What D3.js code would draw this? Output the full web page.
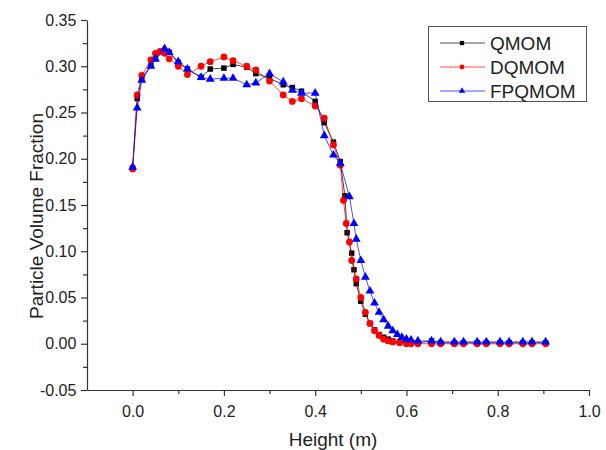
<!DOCTYPE html>
<html>
<head>
<meta charset="utf-8">
<script src="https://cdn.jsdelivr.net/npm/d3@7"></script>
<style>
  body { margin: 0; background: #fff; }
  text { font-family: "Liberation Sans", Arial, sans-serif; fill: #222; }
</style>
</head>
<body>
<script>
// data
let names = ["QMOM", "DQMOM", "FPQMOM"];
let colors = ["#000000", "#ff0000", "#0000ff"];
let tailX = [0.625, 0.655, 0.675, 0.705, 0.725, 0.755, 0.775, 0.805, 0.825, 0.855, 0.875, 0.905];

let xQ = [0, 0.01, 0.02, 0.04, 0.05, 0.07, 0.08, 0.10, 0.12, 0.15, 0.17, 0.20, 0.22, 0.25, 0.27, 0.30, 0.33, 0.35, 0.37, 0.40, 0.42, 0.44, 0.455, 0.465, 0.47, 0.48, 0.485, 0.49, 0.50, 0.51, 0.52, 0.53, 0.54, 0.55, 0.56, 0.57, 0.585, 0.60].concat(tailX);
let yQ = [0.190, 0.265, 0.287, 0.301, 0.308, 0.317, 0.315, 0.304, 0.297, 0.288, 0.297, 0.298, 0.302, 0.299, 0.292, 0.287, 0.280, 0.277, 0.273, 0.262, 0.239, 0.218, 0.197, 0.160, 0.120, 0.098, 0.080, 0.065, 0.046, 0.032, 0.022, 0.015, 0.010, 0.007, 0.005, 0.003, 0.002, 0.001,
          0.001, 0.003, 0.001, 0.001, 0.001, 0.001, 0.001, 0.001, 0.001, 0.001, 0.001, 0.001];

let xD = [0, 0.01, 0.02, 0.04, 0.05, 0.06, 0.07, 0.08, 0.10, 0.12, 0.15, 0.17, 0.20, 0.22, 0.25, 0.27, 0.30, 0.33, 0.35, 0.37, 0.40, 0.42, 0.44, 0.455, 0.462, 0.468, 0.475, 0.48, 0.49, 0.50, 0.51, 0.52, 0.53, 0.54, 0.55, 0.56, 0.57, 0.585, 0.60, 0.61].concat(tailX);
let yD = [0.189, 0.269, 0.290, 0.307, 0.314, 0.316, 0.314, 0.308, 0.300, 0.291, 0.300, 0.305, 0.310, 0.306, 0.300, 0.296, 0.284, 0.269, 0.262, 0.265, 0.257, 0.244, 0.215, 0.193, 0.155, 0.130, 0.110, 0.090, 0.070, 0.050, 0.034, 0.022, 0.014, 0.009, 0.005, 0.003, 0.002, 0.001, 0.000, 0.000,
          0.000, 0.000, 0.000, 0.000, 0.000, 0.000, 0.000, 0.000, 0.000, 0.000, 0.000, 0.000];

let xF = [0, 0.01, 0.02, 0.04, 0.05, 0.07, 0.08, 0.10, 0.12, 0.15, 0.17, 0.20, 0.22, 0.25, 0.27, 0.30, 0.33, 0.35, 0.37, 0.40, 0.42, 0.44, 0.455, 0.475, 0.485, 0.49, 0.50, 0.51, 0.52, 0.53, 0.54, 0.55, 0.56, 0.57, 0.58, 0.59, 0.60, 0.61].concat(tailX);
let yF = [0.191, 0.255, 0.285, 0.300, 0.308, 0.319, 0.315, 0.305, 0.297, 0.288, 0.286, 0.287, 0.287, 0.280, 0.282, 0.292, 0.283, 0.274, 0.271, 0.271, 0.225, 0.204, 0.195, 0.159, 0.130, 0.113, 0.090, 0.072, 0.057, 0.044, 0.034, 0.026, 0.019, 0.014, 0.010, 0.007, 0.005, 0.004,
          0.003, 0.003, 0.002, 0.002, 0.002, 0.002, 0.002, 0.002, 0.002, 0.002, 0.002, 0.002];

let xTicks = [0, 0.2, 0.4, 0.6, 0.8, 1.0];
let yTicks = [-0.05, 0, 0.05, 0.10, 0.15, 0.20, 0.25, 0.30, 0.35];

let svgWidth = 606;
let svgHeight = 450;

let svg = d3.select("body")
    .append("svg")
    .attr("width", svgWidth)
    .attr("height", svgHeight);

// plot area
let margin = {left: 87, right: 589, top: 20, bottom: 390};

let xScale = d3.scaleLinear().domain([-0.1, 1.0]).range([margin.left, margin.right]);
let yScale = d3.scaleLinear().domain([-0.05, 0.35]).range([margin.bottom, margin.top]);

let axisColor = "#333";
let yFmt = d => d3.format(".2f")(d).replace("−", "-");

// x axis
let xAxis = svg.append("g")
    .attr("transform", `translate(0, ${margin.bottom})`)
    .call(d3.axisBottom(xScale).tickValues(xTicks).tickFormat(d3.format(".1f")).tickSize(6).tickSizeOuter(0));
svg.append("g")
    .attr("transform", `translate(0, ${margin.bottom})`)
    .call(d3.axisBottom(xScale).tickValues([0.1, 0.3, 0.5, 0.7, 0.9]).tickFormat("").tickSize(4).tickSizeOuter(0))
    .select(".domain").remove();

// y axis
let yAxis = svg.append("g")
    .attr("transform", `translate(${margin.left}, 0)`)
    .call(d3.axisLeft(yScale).tickValues(yTicks).tickFormat(yFmt).tickSize(6).tickSizeOuter(0));
svg.append("g")
    .attr("transform", `translate(${margin.left}, 0)`)
    .call(d3.axisLeft(yScale).tickValues(d3.range(-0.025, 0.35, 0.05)).tickFormat("").tickSize(4).tickSizeOuter(0))
    .select(".domain").remove();

svg.selectAll(".domain, .tick line").attr("stroke", axisColor).attr("stroke-width", 1.2);
svg.selectAll(".tick text")
    .style("font-size", "16px")
    .style("font-family", "'Liberation Sans', Arial, sans-serif")
    .attr("fill", "#222");
xAxis.selectAll(".tick text").attr("dy", "1.1em");
yAxis.selectAll(".tick text").attr("dx", "-0.1em");

// axis titles
svg.append("text")
    .attr("x", (margin.left + margin.right) / 2 - 5)
    .attr("y", 446)
    .attr("text-anchor", "middle")
    .style("font-size", "19px")
    .text("Height (m)");

svg.append("text")
    .attr("transform", "rotate(-90)")
    .attr("x", -216)
    .attr("y", 43)
    .attr("text-anchor", "middle")
    .style("font-size", "19px")
    .text("Particle Volume Fraction");

// series
let series = [
  {x: xQ, y: yQ, shape: d3.symbolSquare, size: 30},
  {x: xD, y: yD, shape: d3.symbolCircle, size: 36},
  {x: xF, y: yF, shape: d3.symbolTriangle, size: 34}
];

let line = d3.line()
    .x(d => xScale(d[0]))
    .y(d => yScale(d[1]));

series.forEach(function(s, i) {
  let pts = s.x.map((v, j) => [v, s.y[j]]);
  let g = svg.append("g");
  g.append("path")
      .datum(pts)
      .attr("d", line)
      .attr("fill", "none")
      .attr("stroke", colors[i])
      .attr("stroke-opacity", i == 0 ? 0.75 : 0.7)
      .attr("stroke-width", 1);
  g.selectAll("path.mark")
      .data(pts)
      .enter()
      .append("path")
      .attr("class", "mark")
      .attr("transform", d => `translate(${xScale(d[0])}, ${yScale(d[1])})`)
      .attr("d", d3.symbol().type(s.shape).size(s.size))
      .attr("fill", colors[i]);
});

// legend
let legend = svg.append("g");
legend.append("rect")
    .attr("x", 428.5)
    .attr("y", 26.5)
    .attr("width", 158)
    .attr("height", 75)
    .attr("fill", "#fff")
    .attr("stroke", "#555")
    .attr("stroke-width", 1);

names.forEach(function(n, i) {
  let ly = 43 + i * 24;
  legend.append("line")
      .attr("x1", 440).attr("x2", 485)
      .attr("y1", ly).attr("y2", ly)
      .attr("stroke", colors[i])
      .attr("stroke-opacity", 0.7)
      .attr("stroke-width", 1);
  legend.append("path")
      .attr("transform", `translate(462, ${ly})`)
      .attr("d", d3.symbol().type(series[i].shape).size(18))
      .attr("fill", colors[i]);
  legend.append("text")
      .attr("x", 490)
      .attr("y", ly + 7)
      .style("font-size", "19px")
      .text(n);
});
</script>
</body>
</html>
